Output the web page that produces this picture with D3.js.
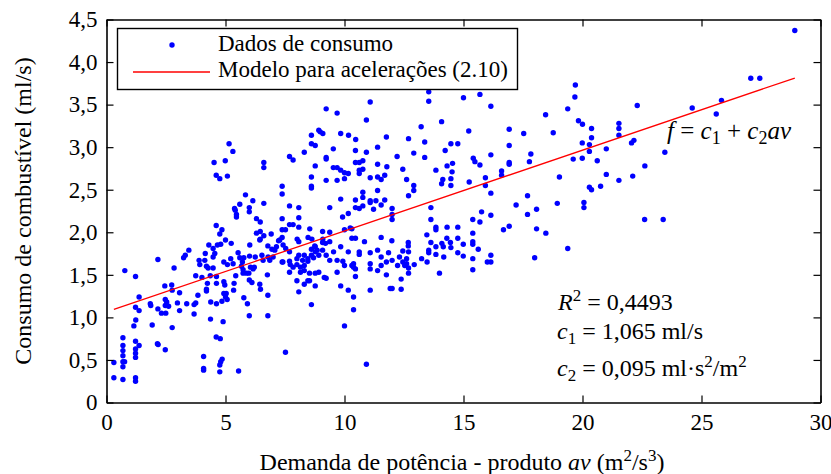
<!DOCTYPE html>
<html><head><meta charset="utf-8">
<script src="https://cdn.jsdelivr.net/npm/d3@7"></script>
<style>
body{margin:0;background:#fff}
svg{display:block}
svg text{font-family:'Liberation Serif','Tinos','Nimbus Roman','Times New Roman','DejaVu Serif',serif !important;fill:#000}
</style>
</head><body>
<svg id="chart" width="831" height="474"></svg>
<script>
// ---- Data ----
const xTicks = [0, 5, 10, 15, 20, 25, 30];
const yTicks = [0, 0.5, 1, 1.5, 2, 2.5, 3, 3.5, 4, 4.5];
const c1 = 1.065, c2 = 0.095;

// demanda de potência av (m2/s3) and consumo (ml/s), grouped by zone
const demandaA = [0.77,1.22,2.16,2.84,3.24,3.31,3.46,2.45,2.74,2.76,
  3.07,1.37,1.22,1.37,1.84,1.86,2.16,2.31,2.49,2.47,
  2.53,2.47,2.61,2.98,3.07,3.37,3.68,3.75,3.68,1.23,
  1.15,1.92,2.76,2.47,2.14,2.17,1.37,1.22,1.22,1.22,
  1.22,0.69,0.69,0.69,0.69,0.69,0.76,0.69,0.31,0.31,
  0.69,1.22,1.22,4.08,4.08,4.08,4.61,4.78,4.86,4.80,
  4.76,4.76,5.55,4.37,4.90,7.52];
const consumoA = [1.55,1.48,1.68,1.58,1.70,1.73,1.79,1.37,1.38,1.32,
  1.29,1.24,1.12,1.08,1.16,1.14,1.10,1.05,1.05,1.21,
  1.18,1.14,1.13,1.17,1.08,1.16,1.15,1.17,1.04,0.97,
  0.90,0.91,0.88,0.62,0.69,0.68,0.67,0.72,0.63,0.58,
  0.53,0.76,0.67,0.61,0.55,0.48,0.48,0.42,0.47,0.29,
  0.27,0.29,0.25,0.54,0.40,0.38,0.77,0.75,0.51,0.48,
  0.44,0.36,0.37,0.98,0.95,0.59];

const demandaB = [3.75,3.84,4.01,4.20,4.20,4.24,4.36,4.38,4.62,4.85,
  5.00,5.03,5.07,4.93,4.93,4.97,4.62,4.62,4.48,4.27,
  4.20,4.13,3.89,3.92,4.15,4.30,4.48,4.55,4.48,4.66,
  4.80,5.00,5.24,4.93,5.08,5.32,5.22,5.53,5.60,5.77,
  5.71,5.67,5.74,5.74,5.88,5.98,6.05,6.21,6.16,6.25,
  6.53,6.58,6.79,6.86,7.00,7.07,7.28,7.14,7.42,7.41,
  6.95,6.78,6.02,6.44,6.00,6.11,6.44,6.47,6.76,6.78,
  6.78,6.00,5.92,5.77,5.43,5.36,5.34,6.01];
const consumoB = [1.49,1.26,1.47,1.33,1.31,1.40,1.49,1.18,1.16,1.19,
  1.24,1.28,1.21,1.28,1.42,1.38,1.40,1.48,1.58,1.58,
  1.60,1.67,1.67,1.62,1.75,1.85,1.81,1.75,1.71,1.85,
  1.86,1.91,1.87,1.65,1.62,1.63,1.69,1.76,1.70,1.70,
  1.65,1.60,1.56,1.52,1.52,1.52,1.59,1.59,1.57,1.71,
  1.73,1.67,1.71,1.67,1.71,1.79,1.91,1.83,1.85,1.65,
  1.80,1.84,1.85,1.91,1.44,1.41,1.39,1.33,1.50,1.26,
  1.02,1.02,1.16,1.23,1.49,1.40,1.32,1.72];

const demandaC = [5.15,5.31,4.52,4.99,6.61,6.61,4.61,4.76,5.08,7.38,
  7.38,5.84,6.15,5.60,5.38,5.41,5.46,5.46,6.00,6.00,
  6.61,6.30,6.46,7.38,4.61,4.85,4.76,6.30,6.46,6.46,
  6.61,6.92,7.38,7.52,7.38,7.23];
const consumoC = [3.04,2.95,2.82,2.84,2.82,2.76,2.67,2.63,2.66,2.54,
  2.45,2.44,2.37,2.33,2.28,2.26,2.21,2.18,2.29,2.24,
  2.34,2.16,2.12,2.16,2.08,2.03,1.98,1.99,2.01,1.92,
  1.96,1.98,2.03,2.03,1.94,1.90];

const demandaD = [13.54,13.54,15.00,11.08,9.23,9.69,10.92,14.08,13.22,15.22,
  8.92,8.98,9.09,8.61,9.84,10.17,10.47,11.76,12.69,13.37,
  14.47,14.76,8.61,8.77,9.53,11.39,10.46,10.92,14.23,8.31,
  12.91,7.69,7.84,9.23,9.23,12.21,13.37,10.46,10.62,10.77,
  11.39,8.77,9.53,9.69,9.84,10.00,10.16,10.62,10.77,10.62,
  11.78,12.45,13.84,14.31,14.54,14.52,8.61,9.23,9.69,10.00,
  11.08,11.39,11.54,11.69,12.61,14.13,14.47,14.08,14.47,8.61,
  8.61,12.91,12.91,12.69,11.39,10.77,9.84,10.46,10.77,11.08,
  11.08,11.32,11.69,10.46,10.62,10.77,11.22,11.54,9.38,7.69,
  8.08,12.00,12.00,12.00,13.63,13.63,9.92,10.16,7.69,7.84,
  8.08,8.08,8.54,10.00,10.24,10.31,13.84,13.84,14.31,14.76,
  9.08,9.38,8.47,8.63,9.09,8.01,8.08,10.31,10.46,11.54,
  11.99,13.46,14.30,14.76,13.63,14.09,14.45,14.99,10.84,12.68,
  12.68,9.84,8.75,9.08,9.38,9.20];
const consumoD = [3.65,3.54,3.58,3.53,3.45,3.40,3.32,3.30,3.24,3.19,
  3.20,3.18,3.16,3.14,3.16,3.14,3.09,3.12,3.10,3.06,
  3.04,3.04,3.04,3.02,2.98,3.00,2.96,2.94,2.96,2.94,
  2.93,2.89,2.85,2.88,2.86,2.89,2.88,2.82,2.82,2.84,
  2.80,2.78,2.76,2.76,2.73,2.70,2.69,2.73,2.74,2.69,
  2.77,2.74,2.73,2.78,2.81,2.71,2.65,2.61,2.61,2.63,
  2.64,2.65,2.62,2.67,2.62,2.62,2.63,2.57,2.55,2.54,
  2.52,2.55,2.49,2.43,2.49,2.47,2.39,2.38,2.41,2.37,
  2.35,2.37,2.38,2.29,2.28,2.31,2.27,2.32,2.29,2.31,
  2.29,2.28,2.21,2.15,2.29,2.15,2.18,2.22,2.09,2.09,
  2.17,2.06,2.04,2.03,2.05,2.04,2.06,2.03,2.06,2.06,
  2.01,2.00,1.94,1.92,1.92,1.92,1.89,1.93,1.93,1.94,
  1.90,1.97,1.93,1.93,1.88,1.87,1.88,1.86,1.89,1.88,
  1.84,1.83,1.84,1.88,1.89,1.87];

const demandaE = [8.61,10.00,10.92,10.38,10.38,10.16,9.84,11.08,11.92,12.00,
  12.38,8.77,8.31,8.08,8.00,8.46,8.53,9.15,9.23,9.69,
  10.46,12.38,11.76,12.69,13.99,7.69,8.15,8.31,8.53,8.77,
  8.92,7.38,7.69,7.72,7.84,8.00,8.00,8.08,8.15,8.31,
  8.24,8.31,8.46,8.46,8.61,8.61,8.70,8.77,8.77,8.85,
  8.92,9.08,9.23,9.54,9.38,9.69,9.93,10.00,10.16,10.31,
  10.38,10.38,10.46,10.62,10.62,11.08,11.08,11.08,11.39,11.39,
  11.54,11.54,11.76,11.85,12.00,12.23,12.31,12.45,12.45,12.53,
  12.61,12.61,12.69,12.69,12.93,13.24,13.47,13.54,13.54,13.84,
  13.84,14.15,14.17,14.47,14.76,14.99,7.53,7.69];
const consumoE = [1.15,0.90,0.45,1.09,1.24,1.32,1.37,1.32,1.34,1.34,
  1.33,1.37,1.39,1.30,1.43,1.43,1.43,1.47,1.46,1.53,
  1.48,1.45,1.50,1.52,1.52,1.53,1.53,1.55,1.52,1.52,
  1.53,1.65,1.66,1.62,1.59,1.62,1.69,1.73,1.59,1.61,
  1.67,1.73,1.69,1.66,1.80,1.73,1.70,1.83,1.77,1.79,
  1.73,1.79,1.73,1.77,1.67,1.67,1.66,1.61,1.77,1.61,
  1.63,1.59,1.57,1.77,1.74,1.76,1.63,1.57,1.79,1.55,
  1.71,1.61,1.65,1.76,1.67,1.61,1.71,1.78,1.65,1.61,
  1.69,1.63,1.77,1.58,1.62,1.69,1.65,1.79,1.76,1.83,
  1.74,1.83,1.71,1.82,1.76,1.72,1.81,1.77];

const demandaF = [15.69,16.15,19.70,19.68,19.38,19.83,18.45,18.77,17.53,16.92,
  16.92,17.83,17.77,16.92,16.92,16.15,15.69,15.41,15.48,16.60,
  16.60,15.92,15.92,15.24,16.15,17.69,19.03,18.94,17.21,18.07,
  19.61,15.76,15.69,16.15,15.39,15.39,15.39,15.39,15.39,15.39,
  15.62,16.15,16.15,16.00,16.68,16.92,17.69,18.07,18.46,17.99,
  19.38,28.92,27.07,27.45,25.84,25.62,24.61,22.30,23.46,21.53,
  21.53,21.53,20.38,20.38,20.00,19.99,20.29,20.29,20.62,21.00,
  19.99,22.06,22.16,22.11,22.62,21.53,21.00,20.76,20.29,20.38,
  20.06,20.06,22.61,23.39];
const consumoF = [3.62,3.48,3.73,3.59,3.45,3.31,3.38,3.17,3.16,3.21,
  3.02,2.92,2.83,2.82,2.80,2.91,2.79,2.87,2.83,2.72,
  2.67,2.64,2.55,2.59,2.46,2.43,2.65,2.34,2.32,2.27,
  2.86,2.24,2.12,2.20,2.15,1.99,1.89,1.86,1.69,1.56,
  1.80,1.73,1.65,1.65,2.03,2.07,2.21,2.04,1.99,1.70,
  1.81,4.37,3.81,3.81,3.55,3.39,3.46,3.49,2.94,3.28,
  3.22,3.14,3.22,3.11,3.27,3.05,3.03,2.95,2.84,2.98,
  2.87,3.05,3.08,2.66,2.78,2.61,2.68,2.54,2.53,2.50,
  2.35,2.29,2.15,2.15];

// ---- Build ----
const demanda = [].concat(demandaA, demandaB, demandaC, demandaD, demandaE, demandaF);
const consumo = [].concat(consumoA, consumoB, consumoC, consumoD, consumoE, consumoF);
const points = demanda.map((d, i) => ({x: d, y: consumo[i]}));

const FONT = "'Liberation Serif','Tinos','Nimbus Roman','Times New Roman','DejaVu Serif',serif";
const svg = d3.select('#chart').attr('font-family', FONT);
const x = d3.scaleLinear().domain([0, 30]).range([106.5, 820.5]);
const y = d3.scaleLinear().domain([0, 4.5]).range([402.5, 19.5]);
const FS_TICK = 23, FS_LEG = 23, FS_ANN = 24, FS_TITLE = 24;

svg.append('rect').attr('width', 831).attr('height', 474).attr('fill', '#fff');

// data points
svg.append('g').selectAll('circle').data(points).join('circle')
  .attr('cx', d => x(d.x)).attr('cy', d => y(d.y)).attr('r', 2.7).attr('fill', '#0000ff');

// model line
const xExt = d3.extent(demanda);
svg.append('path')
  .datum(xExt.map(v => ({x: v, y: c1 + c2 * v})))
  .attr('d', d3.line().x(d => x(d.x)).y(d => y(d.y)))
  .attr('stroke', '#ff0000').attr('stroke-width', 1.3).attr('fill', 'none');

// axes (box with inward ticks on all sides)
const fmtY = d => d === 0 ? '0' : d.toFixed(1).replace('.', ',');
function styleAxis(g) {
  g.attr('font-family', FONT).attr('font-size', FS_TICK);
  g.selectAll('.domain').attr('stroke', '#000').attr('stroke-width', 1.6);
  g.selectAll('.tick line').attr('stroke', '#000').attr('stroke-width', 1.2);
  g.selectAll('text').attr('font-family', FONT).attr('font-size', FS_TICK).attr('fill', '#000');
}
svg.append('g').attr('transform', `translate(0,${y(0)})`)
  .call(d3.axisBottom(x).tickValues(xTicks).tickSize(-7).tickSizeOuter(0).tickPadding(11).tickFormat(d => d))
  .call(styleAxis);
svg.append('g').attr('transform', `translate(0,${y(4.5)})`)
  .call(d3.axisTop(x).tickValues(xTicks).tickSize(-7).tickSizeOuter(0).tickFormat(''))
  .call(styleAxis);
svg.append('g').attr('transform', `translate(${x(0)},0)`)
  .call(d3.axisLeft(y).tickValues(yTicks).tickSize(-7).tickSizeOuter(0).tickPadding(9).tickFormat(fmtY))
  .call(styleAxis);
svg.append('g').attr('transform', `translate(${x(30)},0)`)
  .call(d3.axisRight(y).tickValues(yTicks).tickSize(-7).tickSizeOuter(0).tickFormat(''))
  .call(styleAxis);

// legend
const lg = svg.append('g');
lg.append('rect').attr('x', 117.5).attr('y', 28.5).attr('width', 400).attr('height', 61)
  .attr('fill', '#fff').attr('stroke', '#000').attr('stroke-width', 1.4);
lg.append('circle').attr('cx', 172).attr('cy', 45).attr('r', 2.7).attr('fill', '#0000ff');
lg.append('text').attr('x', 218).attr('y', 51).attr('font-size', FS_LEG).text('Dados de consumo');
lg.append('line').attr('x1', 133).attr('x2', 210).attr('y1', 72).attr('y2', 72)
  .attr('stroke', '#ff0000').attr('stroke-width', 1.3);
lg.append('text').attr('x', 218).attr('y', 77).attr('font-size', FS_LEG).text('Modelo para acelerações (2.10)');

// helper for rich text
function rich(x0, y0, fs, parts, anchor) {
  const small = Math.round(fs * 0.7);
  const t = svg.append('text').attr('x', x0).attr('y', y0).attr('font-size', fs);
  if (anchor) t.attr('text-anchor', anchor);
  parts.forEach(p => {
    const s = t.append('tspan').text(p.t);
    if (p.i) s.attr('font-style', 'italic');
    if (p.sup) s.attr('dy', -9).attr('font-size', small);
    if (p.sub) s.attr('dy', 5).attr('font-size', small);
    if (p.back) s.attr('dy', p.back);
  });
  return t;
}
// model formula
rich(667, 139, 25, [
  {t: 'f', i: 1}, {t: ' = '}, {t: 'c', i: 1}, {t: '1', sub: 1},
  {t: ' + ', back: -5}, {t: 'c', i: 1}, {t: '2', sub: 1}, {t: 'av', i: 1, back: -5}
]);
// fit statistics
rich(558, 310, FS_ANN, [{t: 'R', i: 1}, {t: '2', sup: 1}, {t: ' = 0,4493', back: 9}]);
rich(557, 339, FS_ANN, [{t: 'c', i: 1}, {t: '1', sub: 1}, {t: ' = 1,065 ml/s', back: -5}]);
rich(557, 376, FS_ANN, [{t: 'c', i: 1}, {t: '2', sub: 1}, {t: ' = 0,095 ml·s', back: -5}, {t: '2', sup: 1},
  {t: '/m', back: 9}, {t: '2', sup: 1}]);

// axis titles
rich(462, 470, FS_TITLE, [{t: 'Demanda de potência - produto '}, {t: 'av', i: 1}, {t: ' (m'}, {t: '2', sup: 1},
  {t: '/s', back: 9}, {t: '3', sup: 1}, {t: ')', back: 9}], 'middle');
svg.append('text').attr('transform', `translate(31,${(y(0) + y(4.5)) / 2}) rotate(-90)`)
  .attr('text-anchor', 'middle').attr('font-size', FS_TITLE)
  .text('Consumo de combustível (ml/s)');
</script>
</body></html>
